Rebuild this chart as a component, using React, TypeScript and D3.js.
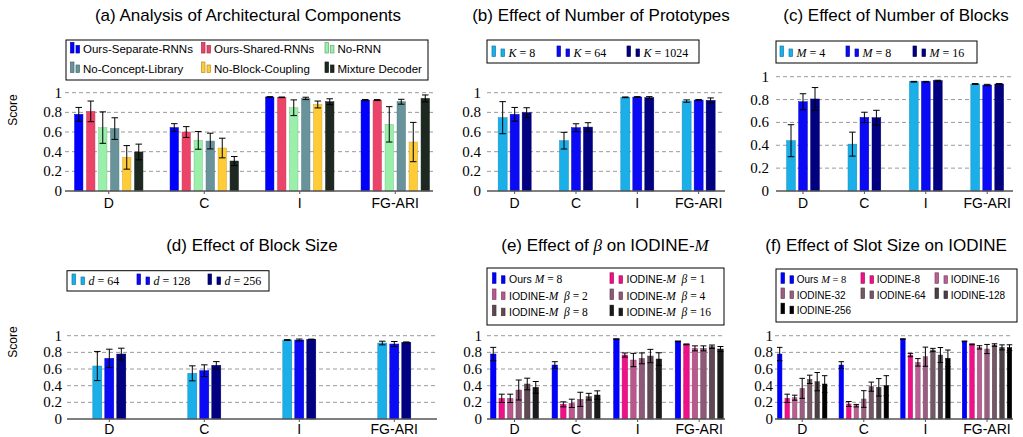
import React from "react";
import * as d3 from "d3";

const categories = ["D", "C", "I", "FG-ARI"];
const yTicks = [0, 0.2, 0.4, 0.6, 0.8, 1];
const yTickLabels = ["0", "0.2", "0.4", "0.6", "0.8", "1"];

// (a) architectural components
const seriesA = ["Ours-Separate-RNNs", "Ours-Shared-RNNs", "No-RNN", "No-Concept-Library", "No-Block-Coupling", "Mixture Decoder"];
const valuesA = [
  [0.78, 0.645, 0.956, 0.925],
  [0.81, 0.6, 0.953, 0.925],
  [0.645, 0.515, 0.847, 0.678],
  [0.635, 0.508, 0.942, 0.908],
  [0.342, 0.437, 0.88, 0.498],
  [0.397, 0.305, 0.908, 0.942],
];
const errorsA = [
  [0.07, 0.04, 0.004, 0.006],
  [0.105, 0.055, 0.003, 0.005],
  [0.16, 0.09, 0.08, 0.18],
  [0.11, 0.08, 0.012, 0.025],
  [0.12, 0.1, 0.035, 0.2],
  [0.08, 0.046, 0.03, 0.035],
];

// (b) number of prototypes
const seriesB = ["K = 8", "K = 64", "K = 1024"];
const valuesB = [
  [0.746, 0.512, 0.953, 0.915],
  [0.78, 0.644, 0.956, 0.925],
  [0.797, 0.65, 0.95, 0.922],
];
const errorsB = [
  [0.163, 0.085, 0.004, 0.012],
  [0.07, 0.04, 0.004, 0.006],
  [0.05, 0.045, 0.01, 0.025],
];

// (c) number of blocks
const seriesC = ["M = 4", "M = 8", "M = 16"];
const valuesC = [
  [0.44, 0.41, 0.956, 0.936],
  [0.781, 0.644, 0.956, 0.927],
  [0.805, 0.641, 0.965, 0.936],
];
const errorsC = [
  [0.14, 0.105, 0.003, 0.004],
  [0.07, 0.045, 0.003, 0.006],
  [0.1, 0.065, 0.004, 0.004],
];

// (d) block size
const seriesD = ["d = 64", "d = 128", "d = 256"];
const valuesD = [
  [0.636, 0.548, 0.948, 0.912],
  [0.728, 0.58, 0.948, 0.9],
  [0.78, 0.644, 0.956, 0.92],
];
const errorsD = [
  [0.175, 0.09, 0.005, 0.022],
  [0.11, 0.07, 0.012, 0.03],
  [0.07, 0.045, 0.003, 0.005],
];

// (e) beta on IODINE-M
const seriesE = ["Ours M = 8", "IODINE-M β = 1", "IODINE-M β = 2", "IODINE-M β = 4", "IODINE-M β = 8", "IODINE-M β = 16"];
const valuesE = [
  [0.78, 0.648, 0.96, 0.932],
  [0.248, 0.176, 0.768, 0.896],
  [0.248, 0.188, 0.708, 0.848],
  [0.348, 0.236, 0.728, 0.848],
  [0.42, 0.268, 0.756, 0.868],
  [0.38, 0.288, 0.72, 0.84],
];
const errorsE = [
  [0.08, 0.04, 0.002, 0.004],
  [0.05, 0.03, 0.025, 0.005],
  [0.05, 0.05, 0.08, 0.03],
  [0.12, 0.085, 0.065, 0.03],
  [0.07, 0.04, 0.08, 0.02],
  [0.07, 0.05, 0.075, 0.03],
];

// (f) slot size on IODINE
const seriesF = ["Ours M = 8", "IODINE-8", "IODINE-16", "IODINE-32", "IODINE-64", "IODINE-128", "IODINE-256"];
const valuesF = [
  [0.78, 0.648, 0.96, 0.932],
  [0.248, 0.18, 0.768, 0.896],
  [0.256, 0.16, 0.68, 0.86],
  [0.368, 0.24, 0.748, 0.84],
  [0.476, 0.388, 0.828, 0.888],
  [0.448, 0.38, 0.768, 0.86],
  [0.42, 0.4, 0.728, 0.856],
];
const errorsF = [
  [0.08, 0.04, 0.002, 0.004],
  [0.05, 0.03, 0.02, 0.005],
  [0.03, 0.015, 0.045, 0.02],
  [0.12, 0.1, 0.115, 0.055],
  [0.05, 0.055, 0.02, 0.015],
  [0.11, 0.105, 0.09, 0.03],
  [0.1, 0.12, 0.1, 0.035],
];

const colorsA = ["#0000FF", "#EC4468", "#9AEFAA", "#68939B", "#FFCC38", "#1C2820"];
const colorsK = ["#1AAFE8", "#0A0AF5", "#000080"];
const colorsE = ["#0000FF", "#EE1188", "#B8588C", "#8E5878", "#5E4854", "#1A1A1A"];
const colorsF = ["#0000FF", "#EE1188", "#B8608F", "#9A5F80", "#735866", "#4A4046", "#000000"];

const sans = "'Liberation Sans', Arial, sans-serif";
const serif = "'Liberation Serif', 'Times New Roman', serif";

const mathLabel = (label: string, sansSize: number, serifSize: number) => {
  const m = label.match(/^(.*?)([A-Za-z](?:\s+β)?\s*=\s*\d+)$/);
  if (!label.includes("=") || !m) return <tspan fontFamily={sans} fontSize={sansSize}>{label}</tspan>;
  const parts = m[2].split(/(\s+)/).filter((p) => p.trim().length);
  return (
    <>
      {m[1] && <tspan fontFamily={sans} fontSize={sansSize}>{m[1]}</tspan>}
      {parts.map((p, i) => (
        <tspan key={i} fontFamily={serif} fontSize={serifSize} fontStyle={/^[A-Za-zβ]$/.test(p) ? "italic" : "normal"}>
          {(i > 0 ? (p === "β" ? "\u2002" : " ") : "") + p}
        </tspan>
      ))}
    </>
  );
};

type Legend = {
  x: number; y: number; w: number; h: number;
  cols: number[]; rows: number[];
  textOffset: number; iconGap: number; sansSize: number; serifSize: number;
};

type PanelCfg = {
  title: React.ReactNode; titleX: number; titleY: number;
  series: string[]; values: number[][]; errors: number[][]; colors: string[];
  axisX: [number, number]; groupRange: [number, number];
  y0: number; y1: number; pitch: number; barPad: number; cap: number;
  tickRight: number; labelDy: number; legend: Legend; scoreY?: number;
};

const Panel = ({ cfg }: { cfg: PanelCfg }) => {
  const y = d3.scaleLinear().domain([0, 1]).range([cfg.y0, cfg.y1]);
  const x = d3.scaleBand().domain(categories).range(cfg.groupRange);
  const n = cfg.series.length;
  const inner = d3.scaleBand()
    .domain(cfg.series)
    .range([-n * cfg.pitch / 2, n * cfg.pitch / 2])
    .paddingInner(cfg.barPad)
    .paddingOuter(cfg.barPad / 2);
  const bw = inner.bandwidth();
  const center = (c: string) => (x(c) as number) + x.bandwidth() / 2;
  const lg = cfg.legend;

  return (
    <g>
      <text x={cfg.titleX} y={cfg.titleY} textAnchor="middle" fontFamily={sans} fontSize={17}>{cfg.title}</text>

      {cfg.scoreY !== undefined && (
        <text transform={`translate(17,${cfg.scoreY}) rotate(-90)`} textAnchor="middle" fontFamily={sans} fontSize={12}>Score</text>
      )}

      {/* legend */}
      <rect x={lg.x} y={lg.y} width={lg.w} height={lg.h} fill="white" stroke="black" strokeWidth={1} />
      {cfg.series.map((s, i) => {
        const ix = lg.cols[i % lg.cols.length];
        const by = lg.rows[Math.floor(i / lg.cols.length)];
        const stroke = d3.color(cfg.colors[i])!.darker(1).formatHex();
        return (
          <g key={s}>
            <rect x={ix} y={by - 10.5} width={3.5} height={10.5} fill={cfg.colors[i]} stroke={stroke} strokeWidth={0.7} />
            <rect x={ix + lg.iconGap} y={by - 7.5} width={3.5} height={7.5} fill={cfg.colors[i]} stroke={stroke} strokeWidth={0.7} />
            <text x={ix + lg.textOffset} y={by}>{mathLabel(s, lg.sansSize, lg.serifSize)}</text>
          </g>
        );
      })}

      {/* grid */}
      {yTicks.map((t, i) => (
        <g key={t}>
          {t > 0 && (
            <line x1={cfg.axisX[0]} x2={cfg.axisX[1]} y1={y(t)} y2={y(t)} stroke="#9a9a9a" strokeDasharray="4,3" strokeWidth={1} />
          )}
          <text x={cfg.tickRight} y={y(t) + 5} textAnchor="end" fontFamily={serif} fontSize={15}>{yTickLabels[i]}</text>
        </g>
      ))}

      {/* bars */}
      {cfg.series.map((s, si) =>
        categories.map((c, ci) => {
          const v = cfg.values[si][ci];
          const bx = center(c) + (inner(s) as number);
          return (
            <rect key={s + c} x={bx} y={y(v)} width={bw} height={cfg.y0 - y(v)} fill={cfg.colors[si]}
              stroke={d3.color(cfg.colors[si])!.darker(0.6).formatHex()} strokeWidth={0.5} />
          );
        })
      )}

      {/* axis */}
      <line x1={cfg.axisX[0]} x2={cfg.axisX[1]} y1={cfg.y0} y2={cfg.y0} stroke="#555" strokeWidth={1.6} />
      {categories.map((c) => (
        <g key={c}>
          <line x1={center(c)} x2={center(c)} y1={cfg.y0} y2={cfg.y0 + 3} stroke="#555" strokeWidth={1} />
          <text x={center(c)} y={cfg.y0 + cfg.labelDy} textAnchor="middle" fontFamily={sans} fontSize={14}>{c}</text>
        </g>
      ))}

      {/* error bars */}
      {cfg.series.map((s, si) =>
        categories.map((c, ci) => {
          const v = cfg.values[si][ci];
          const e = cfg.errors[si][ci];
          const mx = center(c) + (inner(s) as number) + bw / 2;
          return (
            <g key={"e" + s + c} stroke="black" strokeWidth={1}>
              <line x1={mx} x2={mx} y1={y(v - e)} y2={y(v + e)} />
              <line x1={mx - cfg.cap / 2} x2={mx + cfg.cap / 2} y1={y(v - e)} y2={y(v - e)} />
              <line x1={mx - cfg.cap / 2} x2={mx + cfg.cap / 2} y1={y(v + e)} y2={y(v + e)} />
            </g>
          );
        })
      )}
    </g>
  );
};

const italic = (s: string) => <tspan fontFamily={serif} fontStyle="italic">{s}</tspan>;

const panels: PanelCfg[] = [
  {
    title: "(a) Analysis of Architectural Components", titleX: 248, titleY: 21,
    series: seriesA, values: valuesA, errors: errorsA, colors: colorsA,
    axisX: [65, 433], groupRange: [61, 443], y0: 191, y1: 92.7, pitch: 12, barPad: 0.3, cap: 6.5,
    tickRight: 62, labelDy: 17, scoreY: 110,
    legend: { x: 66, y: 40, w: 362, h: 40, cols: [70.5, 201.5, 325], rows: [53, 72.5], textOffset: 12.5, iconGap: 5.5, sansSize: 11.5, serifSize: 12 },
  },
  {
    title: "(b) Effect of Number of Prototypes", titleX: 601, titleY: 21,
    series: seriesB, values: valuesB, errors: errorsB, colors: colorsK,
    axisX: [487, 725], groupRange: [484, 729.3], y0: 191, y1: 92.7, pitch: 12, barPad: 0.25, cap: 6.5,
    tickRight: 481, labelDy: 17,
    legend: { x: 487, y: 40, w: 212, h: 23, cols: [492, 557, 627], rows: [56.5], textOffset: 16.5, iconGap: 9, sansSize: 10.5, serifSize: 12 },
  },
  {
    title: "(c) Effect of Number of Blocks", titleX: 896, titleY: 21,
    series: seriesC, values: valuesC, errors: errorsC, colors: colorsK,
    axisX: [776, 1013], groupRange: [772.3, 1017.9], y0: 191, y1: 76.7, pitch: 12, barPad: 0.27, cap: 6.5,
    tickRight: 769, labelDy: 17,
    legend: { x: 776, y: 41, w: 201, h: 22, cols: [780, 846, 913], rows: [56.5], textOffset: 16.5, iconGap: 9, sansSize: 10.5, serifSize: 12 },
  },
  {
    title: "(d) Effect of Block Size", titleX: 252, titleY: 251,
    series: seriesD, values: valuesD, errors: errorsD, colors: colorsK,
    axisX: [67, 437], groupRange: [61.8, 441.8], y0: 419, y1: 335.7, pitch: 12, barPad: 0.25, cap: 6.5,
    tickRight: 62, labelDy: 15, scoreY: 342,
    legend: { x: 67, y: 270.7, w: 202, h: 20.3, cols: [72, 137, 208], rows: [284.5], textOffset: 16.5, iconGap: 9, sansSize: 10.5, serifSize: 12 },
  },
  {
    title: <>(e) Effect of {italic("β")} on IODINE-{italic("M")}</>, titleX: 605, titleY: 251,
    series: seriesE, values: valuesE, errors: errorsE, colors: colorsE,
    axisX: [487, 725], groupRange: [483.7, 730], y0: 419, y1: 335.7, pitch: 8.5, barPad: 0.35, cap: 6,
    tickRight: 482, labelDy: 15,
    legend: { x: 487, y: 268, w: 237, h: 57, cols: [492.5, 610], rows: [283.3, 299.5, 315.7], textOffset: 16.5, iconGap: 9, sansSize: 10.5, serifSize: 11.5 },
  },
  {
    title: "(f) Effect of Slot Size on IODINE", titleX: 886, titleY: 251,
    series: seriesF, values: valuesF, errors: errorsF, colors: colorsF,
    axisX: [775, 1013], groupRange: [771.4, 1017.8], y0: 419, y1: 335.7, pitch: 7.5, barPad: 0.4, cap: 5.5,
    tickRight: 773, labelDy: 15,
    legend: { x: 776, y: 269, w: 241, h: 53, cols: [781, 861, 935], rows: [283.3, 298.5, 313.7], textOffset: 15.7, iconGap: 9, sansSize: 10, serifSize: 10.5 },
  },
];

export default function App() {
  return (
    <svg width={1023} height={437} style={{ position: "absolute", left: 0, top: 0, display: "block", background: "white" }}>
      {panels.map((p, i) => (
        <Panel key={i} cfg={p} />
      ))}
    </svg>
  );
}
